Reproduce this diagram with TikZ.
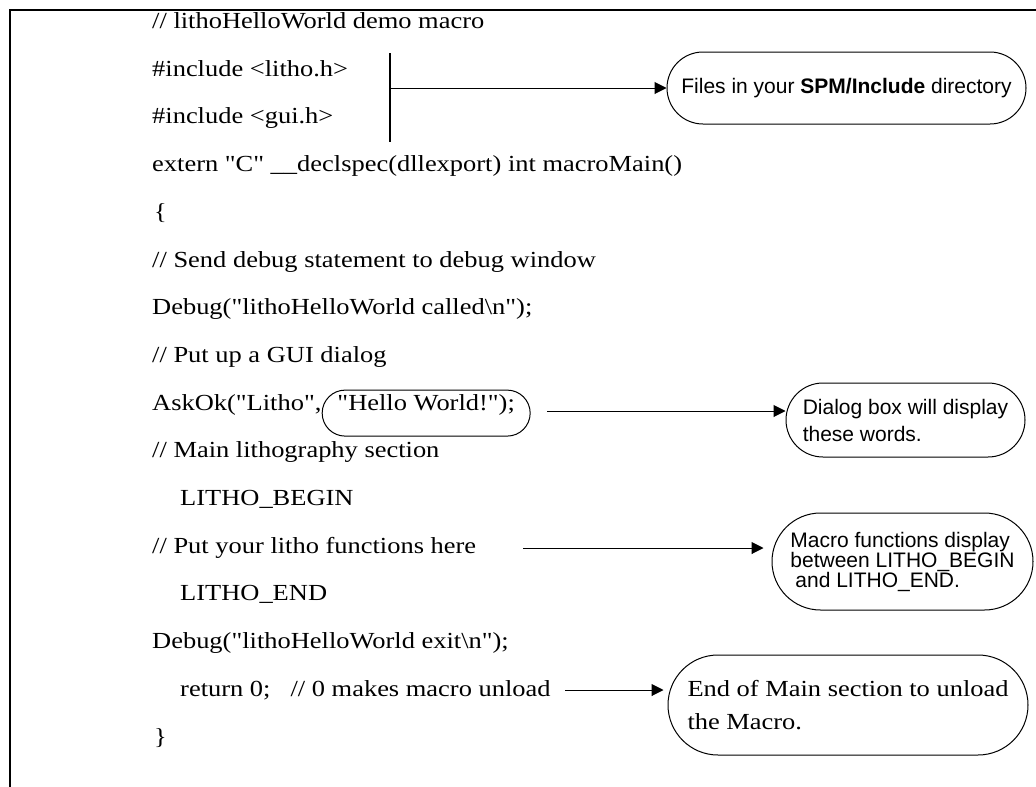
\documentclass[tikz,border=0pt]{standalone}
\usepackage{fontspec}
\setmainfont{Liberation Serif}
\setsansfont{Liberation Sans}
\newfontfamily\listingfont{Liberation Serif}[FakeStretch=1.15]
\usetikzlibrary{arrows.meta,positioning}
\newcommand\codesize{\listingfont\fontsize{23}{27}\selectfont}

\begin{document}
\begin{tikzpicture}[
    x=1pt,y=-1pt,
    >={Triangle[length=12pt,width=12pt]},
    code/.style={anchor=base west,inner sep=0pt,font=\codesize},
    note/.style={
      rectangle,draw,line width=1pt,inner sep=0pt,align=left,
      font=\sffamily\fontsize{21}{21}\selectfont
    },
    hellobox/.style={
      rectangle,draw,line width=1pt,inner sep=0pt,rounded corners=23pt,
      minimum width=208pt,minimum height=46pt,
      text height=12pt,text depth=18pt,font=\codesize
    },
    flow/.style={->,line width=1pt},
    frame/.style={line width=1.3pt}
  ]
    \useasboundingbox (0,0) rectangle (1036,787);
    \draw[frame] (10,787) -- (10,10) -- (1036,10);

    % the listing
    \node[code] (cmt) at (152,28.5) {// lithoHelloWorld demo macro};
    \node[code] (inclitho) at (152,76.2) {\#include <litho.h>};
    \node[code] (incgui) at (152,123.9) {\#include <gui.h>};
    \node[code] (extern) at (152,171.6) {extern "C" \_\_declspec(dllexport) int macroMain()};
    \node[code] (open) at (154,219.3) {\{};
    \node[code] (senddbg) at (152,267) {// Send debug statement to debug window};
    \node[code] (dbgcall) at (152,314.7) {Debug("lithoHelloWorld called\textbackslash n");};
    \node[code] (guicmt) at (152,362.4) {// Put up a GUI dialog};
    \node[code] (askok) at (152,410.1) {AskOk("Litho",};
    \node[hellobox,anchor=base west] (hello) at (askok.base east) {"Hello World!");};
    \node[code] (maincmt) at (152,457.8) {// Main lithography section};
    \node[code] (lbegin) at (180,505.5) {LITHO\_BEGIN};
    \node[code] (putcmt) at (152,553.2) {// Put your litho functions here};
    \node[code] (lend) at (180,600.9) {LITHO\_END};
    \node[code] (dbgexit) at (152,648.6) {Debug("lithoHelloWorld exit\textbackslash n");};
    \node[code] (ret) at (180,696.3) {return 0;\hspace{20pt}// 0 makes macro unload};
    \node[code] (close) at (154,744) {\}};

    % callouts
    \node[note,rounded corners=36pt,minimum width=359pt,minimum height=72pt]
      (files) at (846.5,88) {Files in your \textbf{SPM/Include} directory};
    \node[note,rounded corners=37pt,minimum width=239pt,minimum height=74pt,
      font=\sffamily\fontsize{21}{27}\selectfont]
      (dialog) at (905.5,420) {Dialog box will display\\these words.};
    \node[note,rounded corners=48.5pt,minimum width=261pt,minimum height=97pt,
      font=\sffamily\fontsize{21}{20}\selectfont]
      (macro) at (902.5,561.5) {Macro functions display\\between LITHO\_BEGIN\\\hspace*{5pt}and LITHO\_END.};
    \node[note,rounded corners=50pt,minimum width=360pt,minimum height=100pt,
      font=\listingfont\fontsize{23}{33}\selectfont]
      (endmain) at (848,705) {End of Main section to unload\\the Macro.};

    \coordinate (inctop) at (390,53);
    \coordinate (incbot) at (390,142);
    \coordinate (incmid) at (390,88);
    \coordinate (hellotail) at (547,411);
    \coordinate (functail) at (523,548);
    \coordinate (rettail) at (565,690);

    \draw[line width=1.2pt] (inctop) -- (incbot);
    \draw[flow] (incmid) -- (files);
    \draw[flow] (hellotail) -- (hellotail -| dialog.west);
    \draw[flow,shorten >=8pt] (functail) -- (functail -| macro.west);
    \draw[flow,shorten >=4pt] (rettail) -- (rettail -| endmain.west);
\end{tikzpicture}
\end{document}
